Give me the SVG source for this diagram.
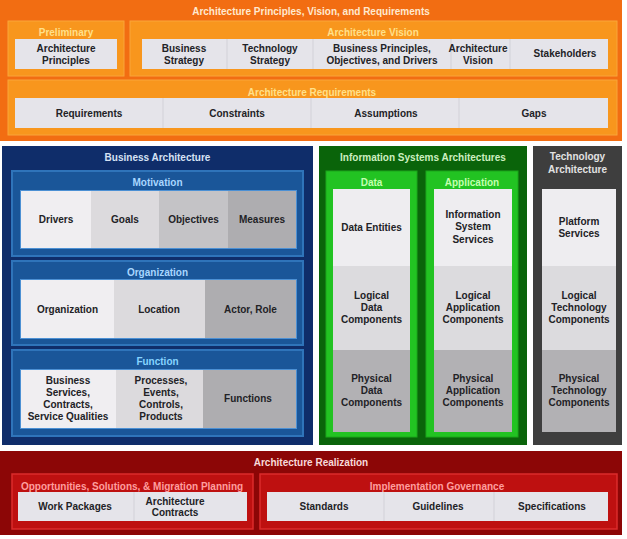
<svg xmlns="http://www.w3.org/2000/svg" width="627" height="539" viewBox="0 0 627 539">
<style>
text{font-family:"Liberation Sans",Arial,sans-serif;font-weight:bold;font-size:10px;text-anchor:middle}
.d{fill:#222226}
.bx{fill:#E5E4EA}
.dv{stroke:#D2D1D8;stroke-width:1}
.opan{fill:#F8961D;stroke:#F9A53A;stroke-width:1}
.bpan{fill:#1A5699;stroke:#2F74BA;stroke-width:2}
.gcol{fill:#22C322;stroke:#1AA61A;stroke-width:1}
.rpan{fill:#BE1010;stroke:#DB2B2B;stroke-width:1.5}
.c1{fill:#F0EEF1}.c2{fill:#DCDADD}.c3{fill:#C4C3C6}.c4{fill:#AEADB0}
.bt{fill:#A9D6FF}.gt{fill:#C4FFB0}.rt{fill:#FF9E9E}
</style>
<rect width="627" height="539" fill="#FFFFFF"/>

<g id="top">
<rect x="0" y="0" width="622" height="141" fill="#F26D12"/>
<text x="311" y="14.5" fill="#FFE9CF">Architecture Principles, Vision, and Requirements</text>
</g>
<g id="preliminary">
<rect class="opan" x="8" y="21" width="116" height="55"/>
<text x="66" y="35.5" fill="#FFE08A">Preliminary</text>
<rect class="bx" x="15" y="39" width="102" height="30"/>
<text class="d" x="66" y="51.5">Architecture</text>
<text class="d" x="66" y="63.5">Principles</text>
</g>
<g id="vision">
<rect class="opan" x="130" y="21" width="487" height="55"/>
<text x="373" y="35.5" fill="#FFE08A">Architecture Vision</text>
<rect class="bx" x="142" y="39" width="466" height="30"/>
<line class="dv" x1="227" y1="39" x2="227" y2="69"/>
<line class="dv" x1="313" y1="39" x2="313" y2="69"/>
<line class="dv" x1="451" y1="39" x2="451" y2="69"/>
<line class="dv" x1="510" y1="39" x2="510" y2="69"/>
<text class="d" x="184" y="51.5">Business</text>
<text class="d" x="184" y="63.5">Strategy</text>
<text class="d" x="270" y="51.5">Technology</text>
<text class="d" x="270" y="63.5">Strategy</text>
<text class="d" x="382" y="51.5">Business Principles,</text>
<text class="d" x="382" y="63.5">Objectives, and Drivers</text>
<text class="d" x="478" y="51.5">Architecture</text>
<text class="d" x="478" y="63.5">Vision</text>
<text class="d" x="565" y="57">Stakeholders</text>
</g>
<g id="requirements">
<rect class="opan" x="8" y="80" width="609" height="55"/>
<text x="312" y="95.5" fill="#FFE08A">Architecture Requirements</text>
<rect class="bx" x="15" y="98" width="593" height="30"/>
<line class="dv" x1="163" y1="98" x2="163" y2="128"/>
<line class="dv" x1="311" y1="98" x2="311" y2="128"/>
<line class="dv" x1="459" y1="98" x2="459" y2="128"/>
<text class="d" x="89" y="116.5">Requirements</text>
<text class="d" x="237" y="116.5">Constraints</text>
<text class="d" x="386" y="116.5">Assumptions</text>
<text class="d" x="534" y="116.5">Gaps</text>
</g>

<g id="business">
<rect x="2" y="146" width="311" height="299" fill="#0F2D6A"/>
<text x="157.5" y="160.5" fill="#D6E2F4">Business Architecture</text>
</g>
<g id="motivation">
<rect class="bpan" x="12" y="171" width="291" height="85"/>
<text class="bt" x="157.5" y="185.5">Motivation</text>
<rect x="21" y="191" width="275" height="57" fill="none" stroke="#4C90D4" stroke-width="2"/>
<rect class="c1" x="21" y="191" width="70" height="57"/>
<rect class="c2" x="91" y="191" width="68" height="57"/>
<rect class="c3" x="159" y="191" width="69" height="57"/>
<rect class="c4" x="228" y="191" width="68" height="57"/>
<text class="d" x="56" y="222.5">Drivers</text>
<text class="d" x="125" y="222.5">Goals</text>
<text class="d" x="193.5" y="222.5">Objectives</text>
<text class="d" x="262" y="222.5">Measures</text>
</g>
<g id="organization">
<rect class="bpan" x="12" y="261" width="291" height="84"/>
<text class="bt" x="157.5" y="275.5">Organization</text>
<rect x="21" y="280" width="275" height="58" fill="none" stroke="#4C90D4" stroke-width="2"/>
<rect class="c1" x="21" y="280" width="93" height="58"/>
<rect class="c2" x="114" y="280" width="91" height="58"/>
<rect class="c4" x="205" y="280" width="91" height="58"/>
<text class="d" x="67.5" y="312.5">Organization</text>
<text class="d" x="159" y="312.5">Location</text>
<text class="d" x="250.5" y="312.5">Actor, Role</text>
</g>
<g id="function">
<rect class="bpan" x="12" y="350" width="291" height="86"/>
<text x="157.5" y="364.5" fill="#86D4FF">Function</text>
<rect x="21" y="370" width="275" height="58" fill="none" stroke="#4C90D4" stroke-width="2"/>
<rect class="c1" x="21" y="370" width="95" height="58"/>
<rect class="c2" x="116" y="370" width="87" height="58"/>
<rect class="c4" x="203" y="370" width="93" height="58"/>
<text class="d" x="68" y="383.5">Business</text>
<text class="d" x="68" y="395.5">Services,</text>
<text class="d" x="68" y="407.5">Contracts,</text>
<text class="d" x="68" y="419.5">Service Qualities</text>
<text class="d" x="161" y="383.5">Processes,</text>
<text class="d" x="161" y="395.5">Events,</text>
<text class="d" x="161" y="407.5">Controls,</text>
<text class="d" x="161" y="419.5">Products</text>
<text class="d" x="248" y="401.5">Functions</text>
</g>

<g id="is">
<rect x="319" y="146" width="208" height="299" fill="#0A640A"/>
<text x="423" y="160.5" fill="#CDEFC0">Information Systems Architectures</text>
</g>
<g id="data">
<rect class="gcol" x="326" y="171" width="91" height="266"/>
<text class="gt" x="371.5" y="185.5">Data</text>
<rect x="333" y="189" width="77" height="77" fill="#EEEDF0"/>
<rect x="333" y="266" width="77" height="84" fill="#DCDBDE"/>
<rect x="333" y="350" width="77" height="82" fill="#B2B1B4"/>
<text class="d" x="371.5" y="230.5">Data Entities</text>
<text class="d" x="371.5" y="298.5">Logical</text>
<text class="d" x="371.5" y="310.5">Data</text>
<text class="d" x="371.5" y="322.5">Components</text>
<text class="d" x="371.5" y="381.5">Physical</text>
<text class="d" x="371.5" y="393.5">Data</text>
<text class="d" x="371.5" y="405.5">Components</text>
</g>
<g id="application">
<rect class="gcol" x="426" y="171" width="92" height="266"/>
<text class="gt" x="472" y="185.5">Application</text>
<rect x="434" y="189" width="78" height="77" fill="#EEEDF0"/>
<rect x="434" y="266" width="78" height="84" fill="#DCDBDE"/>
<rect x="434" y="350" width="78" height="82" fill="#B2B1B4"/>
<text class="d" x="473" y="217.5">Information</text>
<text class="d" x="473" y="230">System</text>
<text class="d" x="473" y="242.5">Services</text>
<text class="d" x="473" y="298.5">Logical</text>
<text class="d" x="473" y="310.5">Application</text>
<text class="d" x="473" y="322.5">Components</text>
<text class="d" x="473" y="381.5">Physical</text>
<text class="d" x="473" y="393.5">Application</text>
<text class="d" x="473" y="405.5">Components</text>
</g>
<g id="technology">
<rect x="533" y="146" width="89" height="299" fill="#3E3E3E"/>
<text x="577.5" y="160" fill="#E2E2E2">Technology</text>
<text x="577.5" y="172.5" fill="#E2E2E2">Architecture</text>
<rect x="542" y="189" width="74" height="77" fill="#EEEDF0"/>
<rect x="542" y="266" width="74" height="84" fill="#DCDBDE"/>
<rect x="542" y="350" width="74" height="82" fill="#B2B1B4"/>
<text class="d" x="579" y="224.5">Platform</text>
<text class="d" x="579" y="236.5">Services</text>
<text class="d" x="579" y="298.5">Logical</text>
<text class="d" x="579" y="310.5">Technology</text>
<text class="d" x="579" y="322.5">Components</text>
<text class="d" x="579" y="381.5">Physical</text>
<text class="d" x="579" y="393.5">Technology</text>
<text class="d" x="579" y="405.5">Components</text>
</g>

<g id="realization">
<rect x="0" y="451" width="622" height="84" fill="#8C0606"/>
<text x="311" y="466" fill="#F8DADA">Architecture Realization</text>
</g>
<g id="opportunities">
<rect class="rpan" x="12" y="474" width="241" height="55"/>
<text class="rt" x="132" y="489.5">Opportunities, Solutions, &amp; Migration Planning</text>
<rect class="bx" x="18" y="492" width="229" height="29"/>
<line class="dv" x1="134" y1="492" x2="134" y2="521"/>
<text class="d" x="75" y="510">Work Packages</text>
<text class="d" x="175" y="504.5">Architecture</text>
<text class="d" x="175" y="516">Contracts</text>
</g>
<g id="governance">
<rect class="rpan" x="260" y="474" width="357" height="55"/>
<text class="rt" x="437" y="489.5">Implementation Governance</text>
<rect class="bx" x="267" y="492" width="341" height="29"/>
<line class="dv" x1="384" y1="492" x2="384" y2="521"/>
<line class="dv" x1="494" y1="492" x2="494" y2="521"/>
<text class="d" x="324" y="510">Standards</text>
<text class="d" x="438" y="510">Guidelines</text>
<text class="d" x="552" y="510">Specifications</text>
</g>
<g id="connectors"></g>
</svg>
